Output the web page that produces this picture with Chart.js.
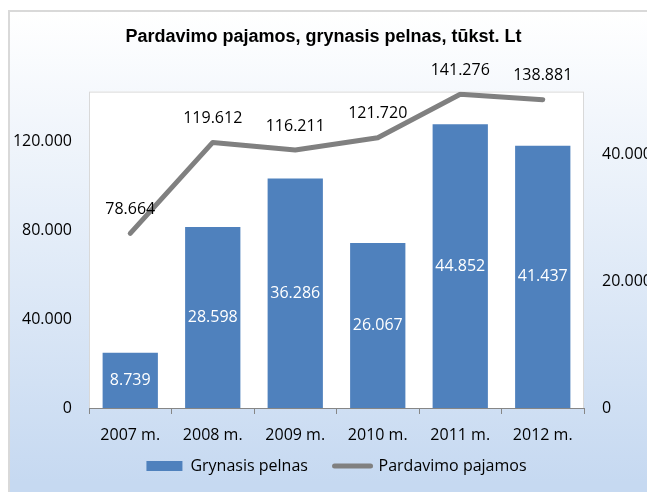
<!DOCTYPE html>
<html>
<head>
<meta charset="utf-8">
<script src="https://cdn.jsdelivr.net/npm/chart.js@4/dist/chart.umd.min.js"></script>
<style>
  html, body { margin: 0; padding: 0; background: #fff; }
  #bg {
    position: absolute; left: 8px; top: 10px; width: 700px; height: 600px;
    border-left: 2px solid #d9d9d9; border-top: 2px solid #d9d9d9;
    background: linear-gradient(180deg, #ffffff 0px, #c6d9f1 470px);
  }
  #wrap { position: absolute; left: 0; top: 0; width: 647px; height: 492px; }
</style>
</head>
<body>
<div id="bg"></div>
<div id="wrap"><canvas id="myChart"></canvas></div>
<script>
const years = ['2007 m.', '2008 m.', '2009 m.', '2010 m.', '2011 m.', '2012 m.'];
const grynasisPelnas = [8739, 28598, 36286, 26067, 44852, 41437];
const pardavimoPajamos = [78664, 119612, 116211, 121720, 141276, 138881];
const leftTicks = [0, 40000, 80000, 120000];
const rightTicks = [0, 20000, 40000];

const FONT = "'Open Sans', sans-serif";

function fmt(v) {
    return String(Math.round(v)).replace(/\B(?=(\d{3})+(?!\d))/g, '.');
}

// white plot area with a thin border
const plotBox = {
    id: 'plotBox',
    beforeDraw(chart) {
        const a = chart.chartArea;
        const ctx = chart.ctx;
        ctx.save();
        ctx.fillStyle = '#ffffff';
        ctx.fillRect(a.left, a.top, a.right - a.left, a.bottom - a.top);
        ctx.strokeStyle = '#d9d9d9';
        ctx.lineWidth = 1;
        ctx.strokeRect(a.left + 0.5, a.top + 0.5, a.right - a.left - 1, a.bottom - a.top);
        ctx.restore();
    }
};

// value labels
const valueLabels = {
    id: 'valueLabels',
    afterDatasetsDraw(chart) {
        const ctx = chart.ctx;
        ctx.save();
        ctx.font = "16px " + FONT;
        ctx.textAlign = 'center';
        ctx.textBaseline = 'middle';
        chart.data.datasets.forEach((ds, i) => {
            const meta = chart.getDatasetMeta(i);
            meta.data.forEach((el, j) => {
                const txt = fmt(ds.data[j]);
                if (ds.type === 'bar') {
                    ctx.fillStyle = '#ffffff';
                    ctx.fillText(txt, el.x, (el.y + el.base) / 2);
                } else {
                    ctx.fillStyle = '#000000';
                    ctx.fillText(txt, el.x, el.y - 24);
                }
            });
        });
        ctx.restore();
    }
};

new Chart(document.getElementById('myChart'), {
    data: {
        labels: years,
        datasets: [
            {
                type: 'bar',
                label: 'Grynasis pelnas',
                data: grynasisPelnas,
                yAxisID: 'y1',
                backgroundColor: '#4f81bd',
                categoryPercentage: 1,
                barPercentage: 0.67,
                order: 2
            },
            {
                type: 'line',
                label: 'Pardavimo pajamos',
                data: pardavimoPajamos,
                yAxisID: 'y',
                borderColor: '#808080',
                backgroundColor: '#808080',
                borderWidth: 5,
                borderCapStyle: 'round',
                borderJoinStyle: 'round',
                pointRadius: 0,
                tension: 0,
                order: 1
            }
        ]
    },
    options: {
        responsive: true,
        maintainAspectRatio: false,
        animation: false,
        layout: { padding: { left: 0, right: 0, top: 0, bottom: 8 } },
        plugins: {
            tooltip: { enabled: false },
            title: {
                display: true,
                text: 'Pardavimo pajamos, grynasis pelnas, tūkst. Lt',
                color: '#000',
                font: { family: "'Liberation Sans', Arial, sans-serif", size: 18, weight: 'bold' },
                padding: { top: 26, bottom: 44 }
            },
            legend: {
                position: 'bottom',
                fullSize: false,
                labels: {
                    color: '#000',
                    font: { family: FONT, size: 16 },
                    padding: 10,
                    usePointStyle: true,
                    pointStyleWidth: 36,
                    boxHeight: 10,
                    generateLabels(chart) {
                        return chart.data.datasets.map((ds, i) => ({
                            // trailing spaces widen the gap between the two entries
                            text: ds.type === 'bar' ? ds.label + '    ' : ds.label,
                            datasetIndex: i,
                            fillStyle: ds.backgroundColor,
                            strokeStyle: ds.type === 'bar' ? ds.backgroundColor : ds.borderColor,
                            lineWidth: ds.type === 'bar' ? 0 : 5,
                            lineCap: 'round',
                            pointStyle: ds.type === 'bar' ? 'rect' : 'line',
                            hidden: false
                        }));
                    }
                }
            }
        },
        scales: {
            x: {
                offset: true,
                grid: {
                    display: true,
                    drawOnChartArea: false,
                    drawTicks: true,
                    tickLength: 6,
                    color: '#868686'
                },
                border: { display: true, color: '#868686' },
                ticks: { color: '#000', font: { family: FONT, size: 16 }, padding: 12 },
                afterFit(scale) { scale.height = 40; }
            },
            y: {
                position: 'left',
                min: 0,
                max: 142500,
                grid: { display: false, drawTicks: false },
                border: { display: false },
                afterBuildTicks(scale) { scale.ticks = leftTicks.map(v => ({ value: v })); },
                ticks: { color: '#000', font: { family: FONT, size: 16 }, padding: 17, callback: v => fmt(v) },
                afterFit(scale) { scale.width = 89; }
            },
            y1: {
                position: 'right',
                min: 0,
                max: 50000,
                grid: { display: false, drawTicks: false },
                border: { display: false },
                afterBuildTicks(scale) { scale.ticks = rightTicks.map(v => ({ value: v })); },
                ticks: { color: '#000', font: { family: FONT, size: 16 }, padding: 18, callback: v => fmt(v) },
                afterFit(scale) { scale.width = 63; }
            }
        }
    },
    plugins: [plotBox, valueLabels]
});
</script>
</body>
</html>
